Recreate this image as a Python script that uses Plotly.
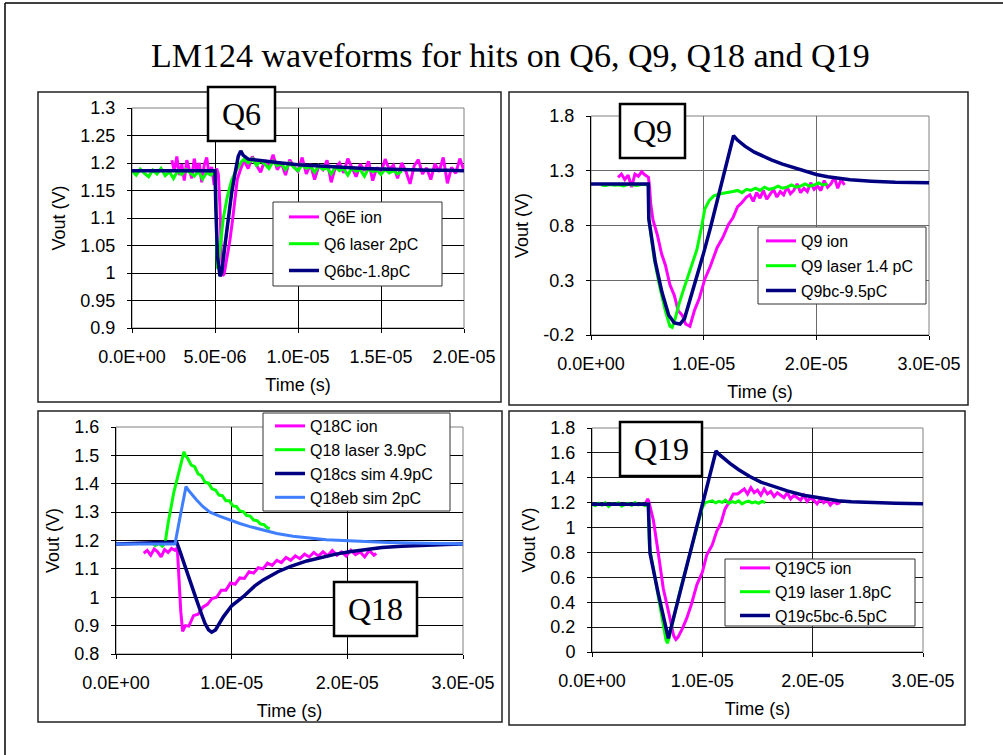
import plotly.graph_objects as go

# ---------------------------------------------------------------- data (time in microseconds, Vout in volts)
# ---- Q6
q6_ion_t = [2.4, 2.55, 2.7, 2.85, 3.0, 3.15, 3.3, 3.45, 3.6, 3.75, 3.9, 4.05, 4.2, 4.35, 4.5, 4.65, 4.8, 4.95, 5.1,
            5.2, 5.3, 5.38, 5.45, 5.55, 5.7, 5.9, 6.06, 6.2, 6.34, 6.5,
            6.75, 7.0, 7.25, 7.5, 7.75, 8.0, 8.25, 8.5, 8.75, 9.0, 9.25, 9.5, 9.75, 10.0, 10.25, 10.5, 10.75, 11.0,
            11.25, 11.5, 11.75, 12.0, 12.25, 12.5, 12.75, 13.0, 13.25, 13.5, 13.75, 14.0, 14.25, 14.5, 14.75, 15.0,
            15.25, 15.5, 15.75, 16.0, 16.25, 16.5, 16.75, 17.0, 17.25, 17.5, 17.75, 18.0, 18.25, 18.5, 18.75, 19.0,
            19.25, 19.5, 19.75, 20.0]
q6_ion_v = [1.205, 1.185, 1.212, 1.178, 1.198, 1.168, 1.205, 1.190, 1.172, 1.208, 1.186, 1.200, 1.165, 1.196, 1.210,
            1.178, 1.193, 1.160, 1.190,
            1.180, 1.120, 1.040, 0.995, 0.998, 1.024, 1.060, 1.097, 1.133, 1.170, 1.185,
            1.205, 1.190, 1.212, 1.196, 1.183, 1.205, 1.192, 1.215, 1.188, 1.200,
            1.178, 1.206, 1.193, 1.185, 1.210, 1.180, 1.198, 1.170, 1.195, 1.188,
            1.205, 1.165, 1.192, 1.200, 1.182, 1.208, 1.190, 1.175, 1.198, 1.186,
            1.203, 1.168, 1.192, 1.181, 1.207, 1.188, 1.196, 1.172, 1.200, 1.185,
            1.162, 1.195, 1.206, 1.180, 1.191, 1.170, 1.199, 1.184, 1.210, 1.163,
            1.192, 1.181, 1.208, 1.186]
q6_laser_t = [0.0, 0.25, 0.5, 0.75, 1.0, 1.25, 1.5, 1.75, 2.0, 2.25, 2.5, 2.75, 3.0, 3.25, 3.5, 3.75, 4.0, 4.25, 4.5,
              4.75, 5.0,
              5.05, 5.1, 5.15, 5.25, 5.4, 5.5, 5.75, 6.0, 6.2, 6.4, 6.6, 6.75,
              7.0, 7.25, 7.5, 7.75, 8.0, 8.25, 8.5, 8.75, 9.0, 9.25, 9.5, 9.75, 10.0, 10.25, 10.5, 10.75, 11.0, 11.25,
              11.5, 11.75, 12.0, 12.25, 12.5, 12.75, 13.0, 13.25, 13.5, 13.75, 14.0, 14.25, 14.5, 14.75, 15.0, 15.25,
              15.5, 15.75, 16.0, 16.25]
q6_laser_v = [1.186, 1.178, 1.189, 1.181, 1.175, 1.187, 1.180, 1.190, 1.177, 1.184, 1.172, 1.186, 1.179, 1.188,
              1.182, 1.176, 1.185, 1.171, 1.183, 1.178, 1.186,
              1.150, 1.050, 1.008, 1.030, 1.070, 1.100, 1.140, 1.168, 1.182, 1.192, 1.203, 1.207,
              1.200, 1.208, 1.196, 1.204, 1.198, 1.190, 1.203, 1.195, 1.199, 1.188,
              1.200, 1.192, 1.186, 1.197, 1.190, 1.194, 1.183, 1.195, 1.188, 1.191,
              1.180, 1.193, 1.186, 1.190, 1.178, 1.191, 1.185, 1.188, 1.176, 1.190,
              1.184, 1.187, 1.179, 1.189, 1.182, 1.186, 1.180, 1.185]
q6_bc_t = [0.0, 5.0, 5.05, 5.15, 5.3, 5.4, 5.6, 5.8, 6.0, 6.2, 6.4, 6.55, 6.7, 7.0, 7.5, 8.0, 9.0, 10.0, 11.0, 12.0,
           13.0, 14.0, 15.0, 16.0, 17.0, 18.0, 19.0, 20.0]
q6_bc_v = [1.186, 1.186, 1.120, 1.030, 0.994, 1.000, 1.050, 1.100, 1.145, 1.180, 1.212, 1.222, 1.214, 1.207, 1.205,
           1.203, 1.200, 1.197, 1.195, 1.193, 1.191, 1.190, 1.189, 1.188, 1.188, 1.187, 1.187, 1.186]

# ---- Q9
q9_ion_t = [2.4, 2.7, 3.0, 3.3, 3.6, 3.9, 4.2, 4.5, 4.8, 5.1, 5.2,
            5.3, 5.5, 5.9, 6.27, 6.6, 7.0, 7.4, 7.75, 8.1, 8.4, 8.78, 9.2, 9.6, 10.1, 10.6, 11.2, 11.7, 12.2, 12.6,
            13.0, 13.4, 13.8,
            14.1, 14.4, 14.7, 15.0, 15.3, 15.6, 15.9, 16.2, 16.5, 16.8, 17.1, 17.4, 17.7, 18.0, 18.3, 18.6, 18.9,
            19.2, 19.5, 19.8, 20.1, 20.4, 20.7, 21.0, 21.3, 21.6, 21.9, 22.2, 22.5]
q9_ion_v = [1.24, 1.27, 1.22, 1.26, 1.15, 1.27, 1.25, 1.29, 1.26, 1.24, 1.15,
            1.00, 0.85, 0.71, 0.54, 0.44, 0.26, 0.16, 0.02, -0.02, -0.10, -0.12, 0.03, 0.13, 0.31, 0.43, 0.60, 0.69,
            0.81, 0.87, 0.97, 1.01, 1.06,
            1.08, 1.02, 1.10, 1.05, 1.12, 1.04, 1.09, 1.13, 1.06, 1.11,
            1.08, 1.15, 1.09, 1.12, 1.18, 1.10, 1.14, 1.11, 1.19, 1.13,
            1.16, 1.12, 1.21, 1.15, 1.18, 1.24, 1.14, 1.22, 1.17]
q9_laser_t = [0.9, 1.3, 1.7, 2.1, 2.5, 2.9, 3.3, 3.7, 4.1, 4.5, 4.9, 5.1,
              5.15, 5.6, 6.1, 6.6, 7.0, 7.2, 7.45, 7.8, 8.2, 8.8, 9.4, 9.8, 10.1, 10.5, 10.9, 11.5, 12.2,
              12.6, 13.0, 13.4, 13.8, 14.2, 14.6, 15.0, 15.4, 15.8, 16.2, 16.6, 17.0, 17.4, 17.8, 18.2, 18.6, 19.0,
              19.4, 19.8, 20.2, 20.6, 21.0]
q9_laser_v = [1.17, 1.165, 1.175, 1.168, 1.172, 1.162, 1.175, 1.170, 1.165, 1.176, 1.170, 1.170,
              0.85, 0.50, 0.24, 0.02, -0.12, -0.13, -0.06, 0.08, 0.21, 0.40, 0.58, 0.78, 0.95, 1.03, 1.07, 1.09, 1.10,
              1.11, 1.12, 1.10, 1.13, 1.12, 1.14, 1.12, 1.15, 1.13, 1.14, 1.16, 1.14, 1.15, 1.17, 1.15, 1.16, 1.18,
              1.16, 1.17, 1.19, 1.17, 1.18]
q9_bc_t = [0.0, 5.08, 5.13, 5.7, 6.3, 6.9, 7.4, 7.9, 8.3, 8.8, 9.4, 10.0, 10.6, 11.2, 11.8, 12.3, 12.65, 13.0, 13.66,
           14.5, 15.3, 16.0, 17.0, 18.1, 19.0, 20.0, 21.0, 21.9, 23.0, 24.9, 27.0, 30.3]
q9_bc_v = [1.18, 1.18, 0.86, 0.47, 0.19, -0.02, -0.09, -0.10, -0.05, 0.12, 0.33, 0.55, 0.78, 1.02, 1.27, 1.48, 1.62,
           1.58, 1.525, 1.47, 1.43, 1.40, 1.36, 1.327, 1.295, 1.266, 1.245, 1.23, 1.218, 1.205, 1.195, 1.19]

# ---- Q18
q18_ion_t = [2.4, 2.7, 3.0, 3.3, 3.6, 3.9, 4.2, 4.5, 4.8, 5.1, 5.3,
             5.45, 5.6, 5.76, 6.0, 6.3, 6.7, 7.1, 7.5, 7.9, 8.3, 8.7, 9.1, 9.5, 9.9, 10.3, 10.7, 11.1, 11.5, 11.9,
             12.3, 12.7, 13.1, 13.5, 13.9, 14.3, 14.7, 15.1, 15.5, 15.9, 16.3, 16.7, 17.1, 17.5, 17.9, 18.3, 18.7,
             19.1, 19.5, 19.9, 20.3, 20.7, 21.1, 21.5, 21.9, 22.3, 22.5]
q18_ion_v = [1.155, 1.165, 1.148, 1.170, 1.160, 1.142, 1.168, 1.158, 1.172, 1.165, 1.175,
             1.050, 0.950, 0.880, 0.900, 0.898, 0.935, 0.940, 0.965, 0.975, 0.995, 1.000, 1.025, 1.025, 1.050, 1.046,
             1.068, 1.066, 1.090, 1.085, 1.104, 1.100, 1.120, 1.112, 1.130, 1.122, 1.140, 1.130, 1.146, 1.136, 1.152,
             1.142, 1.158, 1.145, 1.160, 1.146, 1.165, 1.148, 1.160, 1.145, 1.166, 1.150, 1.160, 1.142, 1.165, 1.148,
             1.155]
q18_laser_t = [3.1, 3.4, 3.7, 4.0, 4.25, 4.5, 5.0, 5.5, 5.88, 6.0, 6.2, 6.5, 6.8, 7.1, 7.4, 7.7, 8.0, 8.3, 8.6, 8.9,
               9.2, 9.5, 9.8, 10.1, 10.4, 10.7, 11.0, 11.3, 11.6, 11.9, 12.2, 12.5, 12.8, 13.1, 13.3]
q18_laser_v = [1.195, 1.182, 1.190, 1.180, 1.192, 1.260, 1.370, 1.450, 1.513, 1.500, 1.490, 1.466, 1.460, 1.435,
               1.428, 1.405, 1.402, 1.382, 1.378, 1.360, 1.358, 1.340, 1.340, 1.322, 1.320, 1.304, 1.302, 1.288,
               1.286, 1.272, 1.270, 1.258, 1.256, 1.244, 1.243]
q18_cs_t = [0.0, 5.24, 5.5, 6.11, 6.5, 6.97, 7.4, 7.69, 8.0, 8.27, 8.6, 9.28, 10.0, 11.0, 12.0, 12.73, 14.0, 15.04,
            16.5, 17.92, 19.0, 20.2, 21.8, 23.0, 24.7, 26.5, 28.5, 30.3]
q18_cs_v = [1.1875, 1.195, 1.165, 1.096, 1.045, 0.990, 0.940, 0.908, 0.885, 0.877, 0.885, 0.931, 0.970, 1.002, 1.040,
            1.061, 1.090, 1.108, 1.128, 1.143, 1.152, 1.160, 1.168, 1.175, 1.180, 1.184, 1.186, 1.1875]
q18_eb_t = [0.0, 5.1, 5.55, 6.05, 6.3, 6.6, 6.97, 7.5, 8.12, 9.0, 9.85, 10.7, 11.58, 12.7, 13.9, 15.3, 16.77, 18.2,
            19.65, 21.5, 23.5, 25.5, 27.5, 30.3]
q18_eb_v = [1.1875, 1.1875, 1.285, 1.390, 1.375, 1.360, 1.343, 1.320, 1.300, 1.285, 1.272, 1.260, 1.249, 1.237, 1.225,
            1.215, 1.208, 1.203, 1.200, 1.196, 1.193, 1.191, 1.189, 1.1875]

# ---- Q19
q19_ion_t = [4.9, 5.05, 5.15, 5.56, 6.0, 6.46, 7.07, 7.4, 7.6, 7.8, 8.2, 8.58, 9.0, 9.5, 10.0, 10.4, 10.9, 11.3, 11.7,
             12.06, 12.4, 12.8, 13.2,
             13.5, 13.8, 14.1, 14.4, 14.7, 15.0, 15.3, 15.6, 15.9, 16.2, 16.5, 16.8, 17.1, 17.4, 17.7, 18.0, 18.3,
             18.6, 18.9, 19.2, 19.5, 19.8, 20.1, 20.4, 20.7, 21.0, 21.3, 21.6, 21.9, 22.2, 22.5]
q19_ion_v = [1.20, 1.23, 1.21, 1.06, 0.80, 0.51, 0.27, 0.13, 0.10, 0.12, 0.19, 0.27, 0.38, 0.54, 0.64, 0.78, 0.86,
             0.97, 1.04, 1.15, 1.20, 1.27, 1.27,
             1.29, 1.31, 1.27, 1.32, 1.28, 1.30, 1.26, 1.31, 1.27, 1.29,
             1.25, 1.28, 1.26, 1.24, 1.28, 1.23, 1.26, 1.24, 1.22, 1.26,
             1.21, 1.24, 1.22, 1.19, 1.23, 1.20, 1.22, 1.18, 1.21, 1.19, 1.20]
q19_laser_t = [0.0, 0.3, 0.6, 0.9, 1.2, 1.5, 1.8, 2.1, 2.4, 2.7, 3.0, 3.3, 3.6, 3.9, 4.2, 4.5, 4.8, 5.1,
               5.2, 6.0, 6.7, 6.83, 7.0, 8.0, 8.88, 9.6, 10.0, 10.25, 10.6,
               10.9, 11.2, 11.5, 11.8, 12.1, 12.4, 12.7, 13.0, 13.3, 13.6, 13.9, 14.2, 14.5, 14.8, 15.1, 15.4, 15.7]
q19_laser_v = [1.19, 1.175, 1.195, 1.18, 1.20, 1.17, 1.19, 1.185, 1.198, 1.172, 1.188, 1.195, 1.178, 1.20, 1.182,
               1.19, 1.176, 1.195,
               0.85, 0.44, 0.10, 0.07, 0.12, 0.50, 0.79, 1.05, 1.16, 1.20, 1.21,
               1.215, 1.198, 1.21, 1.202, 1.22, 1.195, 1.208, 1.20, 1.215, 1.19, 1.205, 1.212, 1.198, 1.207, 1.195,
               1.21, 1.20]
q19_bc_t = [0.0, 5.1, 5.26, 6.0, 6.92, 8.88, 11.24, 11.5, 12.0, 12.5, 13.3, 14.3, 15.3, 16.4, 17.7, 19.16, 20.5, 21.6,
            22.3, 23.5, 25.3, 27.5, 30.3]
q19_bc_v = [1.188, 1.188, 0.793, 0.471, 0.11, 0.793, 1.615, 1.59, 1.55, 1.516, 1.465, 1.41, 1.365, 1.33, 1.295, 1.26,
            1.24, 1.225, 1.215, 1.207, 1.20, 1.195, 1.19]

# ---- axis ticks
x_ticks_20 = [0.0, 5e-6, 1e-5, 1.5e-5, 2e-5]
x_text_20 = ["0.0E+00", "5.0E-06", "1.0E-05", "1.5E-05", "2.0E-05"]
x_ticks_30 = [0.0, 1e-5, 2e-5, 3e-5]
x_text_30 = ["0.0E+00", "1.0E-05", "2.0E-05", "3.0E-05"]
q6_yticks = [0.9, 0.95, 1.0, 1.05, 1.1, 1.15, 1.2, 1.25, 1.3]
q6_ytext = ["0.9", "0.95", "1", "1.05", "1.1", "1.15", "1.2", "1.25", "1.3"]
q9_yticks = [-0.2, 0.3, 0.8, 1.3, 1.8]
q9_ytext = ["-0.2", "0.3", "0.8", "1.3", "1.8"]
q18_yticks = [0.8, 0.9, 1.0, 1.1, 1.2, 1.3, 1.4, 1.5, 1.6]
q18_ytext = ["0.8", "0.9", "1", "1.1", "1.2", "1.3", "1.4", "1.5", "1.6"]
q19_yticks = [0.0, 0.2, 0.4, 0.6, 0.8, 1.0, 1.2, 1.4, 1.6, 1.8]
q19_ytext = ["0", "0.2", "0.4", "0.6", "0.8", "1", "1.2", "1.4", "1.6", "1.8"]

title_text = "LM124 waveforms for hits on Q6, Q9, Q18 and Q19"

# ---------------------------------------------------------------- helpers
W, H = 1003, 755
SANS = "Arial, 'Liberation Sans', sans-serif"
SERIF = "'Times New Roman', 'Liberation Serif', serif"
MAG, GRN, NAVY, LBLUE = "#FF00FF", "#00FF00", "#000080", "#3F7FFF"


def fx(x):
    return x / W


def fy(y):
    return 1 - y / H


def sec(us):
    return [u * 1e-6 for u in us]


fig = go.Figure()


def add(t, v, name, color, xa, ya, leg, width=3):
    fig.add_trace(go.Scatter(x=sec(t), y=v, mode="lines", name=name,
                             line=dict(color=color, width=width),
                             xaxis=xa, yaxis=ya, legend=leg, legendgroup=leg + name))


add(q6_ion_t, q6_ion_v, "Q6E ion", MAG, "x", "y", "legend")
add(q6_laser_t, q6_laser_v, "Q6 laser 2pC", GRN, "x", "y", "legend")
add(q6_bc_t, q6_bc_v, "Q6bc-1.8pC", NAVY, "x", "y", "legend", 3.5)

add(q9_ion_t, q9_ion_v, "Q9 ion", MAG, "x2", "y2", "legend2")
add(q9_laser_t, q9_laser_v, "Q9 laser 1.4 pC", GRN, "x2", "y2", "legend2")
add(q9_bc_t, q9_bc_v, "Q9bc-9.5pC", NAVY, "x2", "y2", "legend2", 3.5)

add(q18_ion_t, q18_ion_v, "Q18C ion", MAG, "x3", "y3", "legend3")
add(q18_laser_t, q18_laser_v, "Q18 laser 3.9pC", GRN, "x3", "y3", "legend3")
add(q18_cs_t, q18_cs_v, "Q18cs sim 4.9pC", NAVY, "x3", "y3", "legend3", 3.5)
add(q18_eb_t, q18_eb_v, "Q18eb sim 2pC", LBLUE, "x3", "y3", "legend3")

add(q19_ion_t, q19_ion_v, "Q19C5 ion", MAG, "x4", "y4", "legend4")
add(q19_laser_t, q19_laser_v, "Q19 laser 1.8pC", GRN, "x4", "y4", "legend4")
add(q19_bc_t, q19_bc_v, "Q19c5bc-6.5pC", NAVY, "x4", "y4", "legend4", 3.5)

# plot-area geometry (pixels)
areas = {
    "1": dict(x0=132, x1=464, y0=108, y1=328, xr=[0, 2e-5], xt=(x_ticks_20, x_text_20),
              yr=[0.9, 1.3], yt=(q6_yticks, q6_ytext), grid="#000000"),
    "2": dict(x0=591, x1=929, y0=116, y1=335, xr=[0, 3e-5], xt=(x_ticks_30, x_text_30),
              yr=[-0.2, 1.8], yt=(q9_yticks, q9_ytext), grid="#6a6a6a"),
    "3": dict(x0=116, x1=463, y0=427, y1=654, xr=[0, 3e-5], xt=(x_ticks_30, x_text_30),
              yr=[0.8, 1.6], yt=(q18_yticks, q18_ytext), grid="#000000"),
    "4": dict(x0=592, x1=923, y0=428, y1=652, xr=[0, 3e-5], xt=(x_ticks_30, x_text_30),
              yr=[0.0, 1.8], yt=(q19_yticks, q19_ytext), grid="#1a1a1a"),
}

layout = dict(width=W, height=H, margin=dict(l=0, r=0, t=0, b=0),
              paper_bgcolor="white", plot_bgcolor="white", showlegend=True)
shapes = []
for k, a in areas.items():
    xs = "xaxis" if k == "1" else "xaxis" + k
    ys = "yaxis" if k == "1" else "yaxis" + k
    yid = "y" if k == "1" else "y" + k
    xid = "x" if k == "1" else "x" + k
    layout[xs] = dict(domain=[fx(a["x0"]), fx(a["x1"])], range=a["xr"], anchor=yid,
                      tickvals=a["xt"][0], ticktext=a["xt"][1], showgrid=True, gridcolor=a["grid"],
                      gridwidth=1, showline=True, linecolor="black", linewidth=1, ticks="outside",
                      ticklen=4, tickcolor="black", tickfont=dict(family=SANS, size=18, color="black"),
                      ticklabelstandoff=8,
                      zeroline=False, automargin=False, fixedrange=True,
                      title=dict(text="Time (s)", font=dict(family=SANS, size=18, color="black"), standoff=12))
    layout[ys] = dict(domain=[fy(a["y1"]), fy(a["y0"])], range=a["yr"], anchor=xid,
                      tickvals=a["yt"][0], ticktext=a["yt"][1], showgrid=True, gridcolor=a["grid"],
                      gridwidth=1, showline=True, linecolor="black", linewidth=1, ticks="outside",
                      ticklen=4, tickcolor="black", tickfont=dict(family=SANS, size=18, color="black"),
                      ticklabelstandoff=8,
                      zeroline=False, automargin=False, fixedrange=True,
                      title=dict(text="Vout (V)", font=dict(family=SANS, size=18, color="black"), standoff=10))
    shapes.append(dict(type="rect", xref=xid + " domain", yref=yid + " domain", x0=0, x1=1, y0=0, y1=1,
                       line=dict(color="#808080", width=1), layer="below"))

# chart frames
frames = [(38, 92, 501, 402), (509, 92, 968, 405), (38, 411, 502, 722), (509, 411, 965, 725)]
for (x0, y0, x1, y1) in frames:
    shapes.append(dict(type="rect", xref="paper", yref="paper", x0=fx(x0), x1=fx(x1), y0=fy(y1), y1=fy(y0),
                       line=dict(color="#222222", width=1.5), layer="below"))
# outer slide frame (left and top edges)
shapes.append(dict(type="line", xref="paper", yref="paper", x0=fx(5), x1=fx(5), y0=0, y1=fy(3),
                   line=dict(color="black", width=1.5)))
shapes.append(dict(type="line", xref="paper", yref="paper", x0=fx(5), x1=1, y0=fy(3), y1=fy(3),
                   line=dict(color="black", width=1.5)))

# legend boxes and legend placement
leg_boxes = {"legend": (273, 202, 442, 286), "legend2": (758, 227, 926, 304),
             "legend3": (263, 413, 450, 511), "legend4": (725, 559, 915, 626)}
leg_item = {"legend": (284, 200, 3), "legend2": (761, 224, 1), "legend3": (270, 409, 0), "legend4": (735, 551, 0)}
for lg, (x0, y0, x1, y1) in leg_boxes.items():
    shapes.append(dict(type="rect", xref="paper", yref="paper", x0=fx(x0), x1=fx(x1), y0=fy(y1), y1=fy(y0),
                       line=dict(color="#333333", width=1), fillcolor="white", layer="above"))
    lx, ly, gap = leg_item[lg]
    layout[lg] = dict(x=fx(lx), y=fy(ly), xanchor="left", yanchor="top", bgcolor="rgba(0,0,0,0)",
                      borderwidth=0, font=dict(family=SANS, size=16, color="black"),
                      traceorder="grouped", tracegroupgap=gap, itemwidth=30)

# label boxes
labels = [("Q6", 208, 87, 275, 141), ("Q9", 620, 104, 685, 158), ("Q18", 334, 582, 417, 636),
          ("Q19", 620, 422, 702, 476)]
annotations = []
for (txt, x0, y0, x1, y1) in labels:
    shapes.append(dict(type="rect", xref="paper", yref="paper", x0=fx(x0), x1=fx(x1), y0=fy(y1), y1=fy(y0),
                       line=dict(color="black", width=2.5), fillcolor="white", layer="above"))
    annotations.append(dict(text=txt, xref="paper", yref="paper", x=fx((x0 + x1) / 2), y=fy((y0 + y1) / 2),
                            xanchor="center", yanchor="middle", showarrow=False,
                            font=dict(family=SERIF, size=32, color="black")))

annotations.append(dict(text=title_text, xref="paper", yref="paper", x=fx(511), y=fy(55),
                        xanchor="center", yanchor="middle", showarrow=False,
                        font=dict(family=SERIF, size=34, color="black")))

layout["shapes"] = shapes
layout["annotations"] = annotations
fig.update_layout(**layout)
fig.write_html("out.html", config={"displayModeBar": False},
               post_script="document.body.style.margin='0';document.body.style.padding='0';")
